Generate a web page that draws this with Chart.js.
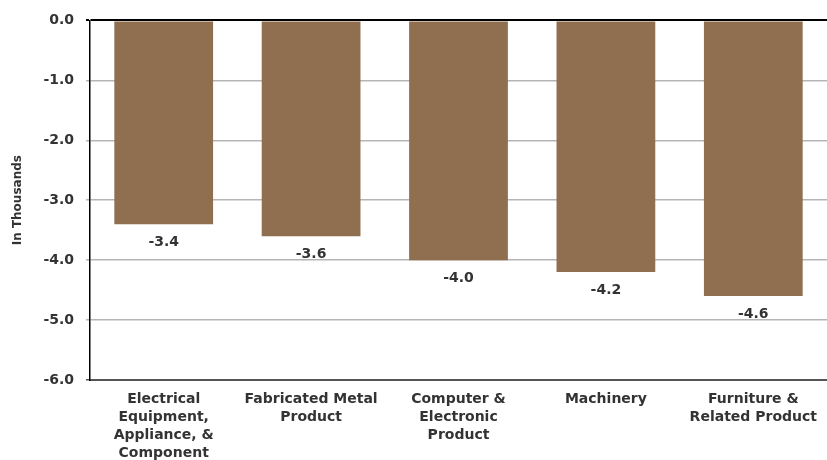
<!DOCTYPE html>
<html>
<head>
<meta charset="utf-8">
<script src="https://cdn.jsdelivr.net/npm/chart.js@4.4.0/dist/chart.umd.min.js"></script>
<style>
  html, body { margin: 0; padding: 0; background: #fff; }
  #wrap { width: 827px; height: 460px; }
</style>
</head>
<body>
<div id="wrap"><canvas id="mainChart" width="827" height="460"></canvas></div>
<script>
// categories and values
var categories = [
  ["Electrical", "Equipment,", "Appliance, &", "Component"],
  ["Fabricated Metal", "Product"],
  ["Computer &", "Electronic", "Product"],
  ["Machinery"],
  ["Furniture &", "Related Product"]
];
var changes = [-3.4, -3.6, -4.0, -4.2, -4.6];
var yTicks = [0, -1, -2, -3, -4, -5, -6];

var textColor = "#333333";
var fontFam = "'DejaVu Sans', sans-serif";

// draw the value under the end of each bar
var barLabels = {
  id: "barLabels",
  afterDatasetsDraw: function(chart) {
    var ctx = chart.ctx;
    var meta = chart.getDatasetMeta(0);
    ctx.save();
    ctx.font = "bold 14px " + fontFam;
    ctx.fillStyle = textColor;
    ctx.textAlign = "center";
    ctx.textBaseline = "middle";
    meta.data.forEach(function(bar, i) {
      ctx.fillText(changes[i].toFixed(1), bar.x, bar.y + 18);
    });
    ctx.restore();
  }
};

var data = {
  labels: categories,
  datasets: [{
    label: "Change",
    backgroundColor: "#8f6f4f",
    borderWidth: 0,
    data: changes,
    categoryPercentage: 0.67,
    barPercentage: 1.0
  }]
};

var options = {
  responsive: false,
  animation: false,
  layout: { padding: { top: 19, right: 0, left: 0, bottom: 0 } },
  plugins: {
    legend: { display: false },
    tooltip: { enabled: false }
  },
  scales: {
    x: {
      grid: { display: false, drawTicks: false },
      border: { display: true, color: "#555555", width: 2 },
      ticks: {
        color: textColor,
        font: { family: fontFam, size: 14, weight: "bold", lineHeight: "18px" },
        padding: 10,
        maxRotation: 0,
        autoSkip: false
      },
      afterFit: function(s) { s.height = 80; }
    },
    y: {
      min: -6,
      max: 0,
      afterBuildTicks: function(s) {
        s.ticks = yTicks.map(function(v) { return { value: v }; });
      },
      grid: {
        color: function(c) {
          if (c.tick.value === 0) return "#000000";
          if (c.tick.value === -6) return "#555555";
          return "#b5b5b5";
        },
        lineWidth: function(c) { return c.tick.value === 0 ? 2 : 1.5; },
        tickLength: 4
      },
      border: { display: true, color: "#000000", width: 1.5 },
      ticks: {
        color: textColor,
        font: { family: fontFam, size: 14, weight: "bold" },
        padding: 12,
        callback: function(v) { return v.toFixed(1); }
      },
      title: {
        display: true,
        text: "In Thousands",
        color: textColor,
        font: { family: fontFam, size: 12, weight: "bold" },
        padding: { top: 11, bottom: 0 }
      },
      afterFit: function(s) { s.width = 90; }
    }
  }
};

var config = {
  type: "bar",
  data: data,
  options: options,
  plugins: [barLabels]
};

var ctx = document.getElementById("mainChart");
new Chart(ctx, config);
</script>
</body>
</html>
